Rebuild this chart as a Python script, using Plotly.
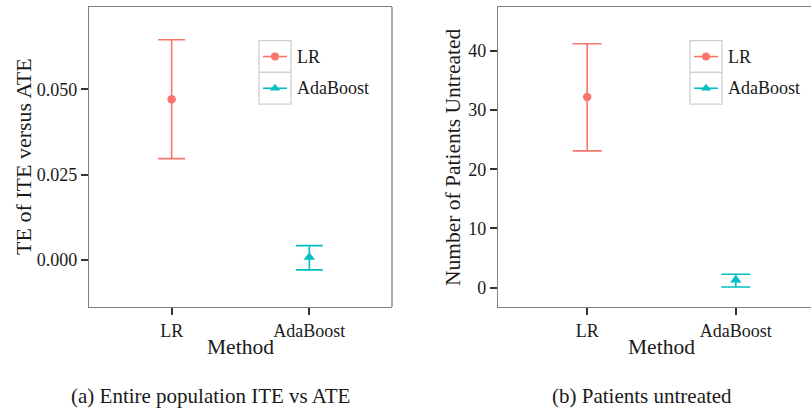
import plotly.graph_objects as go

W, H = 811, 408

methods = ["LR", "AdaBoost"]
colors = ["#F8766D", "#00BFC4"]
symbols = ["circle", "triangle-up"]

# Panel (a): TE of ITE versus ATE
te_mean = [0.0471, 0.0008]
te_upper = [0.0645, 0.0042]
te_lower = [0.0297, -0.0029]
te_ticks = [0.0, 0.025, 0.05]
te_ticktext = ["0.000", "0.025", "0.050"]

# Panel (b): Number of patients untreated
nu_mean = [32.2, 1.3]
nu_upper = [41.2, 2.26]
nu_lower = [23.1, 0.12]
nu_ticks = [0, 10, 20, 30, 40]
nu_ticktext = ["0", "10", "20", "30", "40"]

FONT = "Liberation Serif"
TXT = "#1a1a1a"

def px_x(p):
    return p / W

def px_y(p):
    return 1 - p / H

fig = go.Figure()

cat_x = [1, 2]
for i in range(2):
    fig.add_trace(go.Scatter(
        x=[cat_x[i]], y=[te_mean[i]], mode="markers",
        marker=dict(color=colors[i], symbol=symbols[i], size=8.5 if i == 0 else 10),
        error_y=dict(type="data", symmetric=False,
                     array=[te_upper[i] - te_mean[i]],
                     arrayminus=[te_mean[i] - te_lower[i]],
                     color=colors[i], thickness=1.6, width=13.5),
        xaxis="x", yaxis="y", showlegend=False, name=methods[i]))
    fig.add_trace(go.Scatter(
        x=[cat_x[i]], y=[nu_mean[i]], mode="markers",
        marker=dict(color=colors[i], symbol=symbols[i], size=8.5 if i == 0 else 10),
        error_y=dict(type="data", symmetric=False,
                     array=[nu_upper[i] - nu_mean[i]],
                     arrayminus=[nu_mean[i] - nu_lower[i]],
                     color=colors[i], thickness=1.6, width=14.5),
        xaxis="x2", yaxis="y2", showlegend=False, name=methods[i]))

# Manual legends on a full-page pixel axis
for (x0, x1, tx) in [(259, 291, 295), (690, 722, 726)]:
    for i in range(2):
        y0 = 40.7 + i * 31.7
        y1 = y0 + 31.7
        fig.add_shape(type="rect", xref="x3", yref="y3", x0=x0, x1=x1, y0=y0, y1=y1,
                      line=dict(color="#d0d0d0", width=1.3), fillcolor="rgba(0,0,0,0)")
        yc = (y0 + y1) / 2
        fig.add_trace(go.Scatter(
            x=[x0 + 4, (x0 + x1) / 2, x1 - 4], y=[yc, yc, yc], mode="lines",
            line=dict(color=colors[i], width=1.6), xaxis="x3", yaxis="y3",
            showlegend=False, hoverinfo="skip"))
        fig.add_trace(go.Scatter(
            x=[(x0 + x1) / 2], y=[yc], mode="markers",
            marker=dict(color=colors[i], symbol=symbols[i], size=8 if i == 0 else 9),
            xaxis="x3", yaxis="y3", showlegend=False, hoverinfo="skip"))
        fig.add_annotation(xref="x3", yref="y3", x=tx, y=yc, text=methods[i],
                           showarrow=False, xanchor="left", yanchor="middle",
                           font=dict(family=FONT, size=18, color=TXT))

common_x = dict(
    tickmode="array", tickvals=cat_x, ticktext=methods,
    showgrid=False, zeroline=False, showline=True, linecolor="#808080", linewidth=1.3,
    ticks="outside", ticklen=7, tickwidth=1.5, tickcolor="#333333",
    tickfont=dict(family=FONT, size=18, color=TXT),
)
common_y = dict(
    showgrid=False, zeroline=False, showline=True, linecolor="#808080", linewidth=1.3,
    ticks="outside", ticklen=7, tickwidth=1.5, tickcolor="#333333",
    tickfont=dict(family=FONT, size=18, color=TXT), mirror=False,
)

ydom = [px_y(307), px_y(7)]
fig.update_layout(
    width=W, height=H, margin=dict(l=0, r=0, t=0, b=0),
    paper_bgcolor="white", plot_bgcolor="rgba(0,0,0,0)",
    xaxis=dict(domain=[px_x(89), px_x(392)], range=[0.4, 2.6], anchor="y", mirror=True, **common_x),
    yaxis=dict(domain=ydom, range=[-0.01377, 0.0741], anchor="x",
               tickmode="array", tickvals=te_ticks, ticktext=te_ticktext, **common_y),
    xaxis2=dict(domain=[px_x(498), 1], range=[0.4, 0.4 + 2.2 * (811 - 498) / 327.0],
                anchor="y2", mirror=True, **common_x),
    yaxis2=dict(domain=ydom, range=[-3.26, 47.4], anchor="x2",
                tickmode="array", tickvals=nu_ticks, ticktext=nu_ticktext, **common_y),
    xaxis3=dict(domain=[0, 1], range=[0, W], visible=False, anchor="y3", fixedrange=True),
    yaxis3=dict(domain=[0, 1], range=[H, 0], visible=False, anchor="x3", fixedrange=True),
    showlegend=False,
)

# right border of left panel
fig.add_shape(type="line", xref="x3", yref="y3", x0=392, x1=392, y0=7, y1=307,
              line=dict(color="#808080", width=1.3))

ann = [
    ("Method", 240.5, 346.5, 0, 21.5),
    ("Method", 661.5, 346.5, 0, 21.5),
    ("TE of ITE versus ATE", 23, 157, -90, 22),
    ("Number of Patients Untreated", 453, 157, -90, 21.5),
    ("(a) Entire population ITE vs ATE", 210, 396, 0, 21),
    ("(b) Patients untreated", 641.5, 396, 0, 21),
]
for text, x, y, ang, sz in ann:
    fig.add_annotation(xref="x3", yref="y3", x=x, y=y, text=text, showarrow=False,
                       textangle=ang, xanchor="center", yanchor="middle",
                       font=dict(family=FONT, size=sz, color=TXT))

fig.write_html("out.html")
